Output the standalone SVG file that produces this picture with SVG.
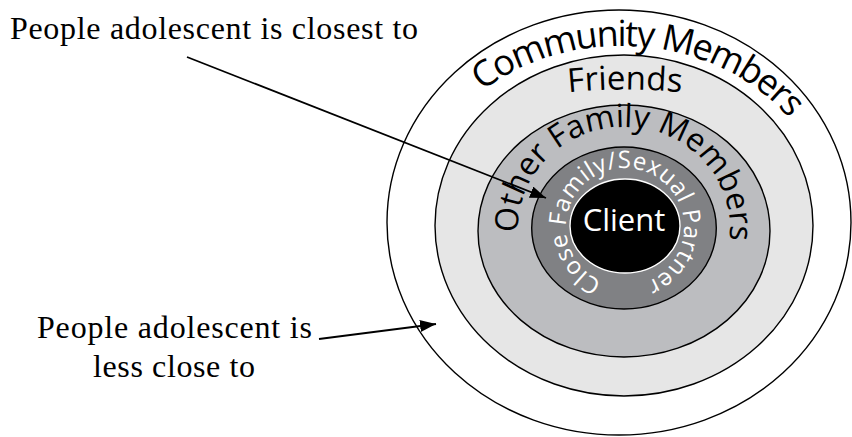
<svg xmlns="http://www.w3.org/2000/svg" width="852" height="437" viewBox="0 0 852 437">
<style>
.ring{stroke:#000;stroke-width:1.4}
.arc{font-family:"Open Sans","Noto Sans",sans-serif;fill:#000}
.lbl{font-family:"Liberation Serif","Times New Roman",serif;font-size:32px;fill:#000}
.conn{stroke:#000;stroke-width:1.8;fill:none}
</style>
<defs>
<marker id="ah" markerUnits="userSpaceOnUse" markerWidth="17" markerHeight="13" refX="16" refY="6" orient="auto">
<path d="M0,0 L16,6 L0,12 z" fill="#000"/>
</marker>
<path id="pComm" d="M621,398 A208,176 0 1 1 621,46 A208,176 0 1 1 621,398"/>
<path id="pFriends" d="M540,96 Q625,83 710,96"/>
<path id="pOther" d="M624,329 A106,101 0 1 1 624,127 A106,101 0 1 1 624,329"/>
<path id="pClose" d="M625,286 A59,59 0 1 1 625,168 A59,59 0 1 1 625,286"/>
</defs>
<rect width="852" height="437" fill="#fff"/>

<g id="community">
<ellipse class="ring" cx="619" cy="222.5" rx="232" ry="212.5" fill="#fff"/>
<text class="arc" font-size="36" letter-spacing="-1.7" text-anchor="middle"><textPath href="#pComm" startOffset="51.6%">Community Members</textPath></text>
</g>
<g id="friends">
<ellipse class="ring" cx="624" cy="225.5" rx="189" ry="170.5" fill="#e6e6e6"/>
<text class="arc" font-size="33" text-anchor="middle"><textPath href="#pFriends" startOffset="50%">Friends</textPath></text>
</g>
<g id="other-family">
<ellipse class="ring" cx="624" cy="231" rx="146" ry="126" fill="#bcbdc0"/>
<text class="arc" font-size="32" text-anchor="middle"><textPath href="#pOther" startOffset="50.6%">Other Family Members</textPath></text>
</g>
<g id="close-family">
<ellipse class="ring" cx="624" cy="228" rx="92.3" ry="81" fill="#808184"/>
<text class="arc" font-size="24" letter-spacing="0.5" text-anchor="middle" style="fill:#fff"><textPath href="#pClose" startOffset="50.3%">Close Family/Sexual Partner</textPath></text>
</g>
<g id="client">
<ellipse cx="625" cy="226" rx="55" ry="47" fill="#000" stroke="#fff" stroke-width="1.4"/>
<text x="624" y="231" font-family="Open Sans, Noto Sans, sans-serif" font-size="31" text-anchor="middle" fill="#fff">Client</text>
</g>

<g id="label-closest">
<text class="lbl" x="10" y="39" textLength="408" lengthAdjust="spacing">People adolescent is closest to</text>
</g>
<g id="label-less-close">
<text class="lbl" x="37" y="338" textLength="275" lengthAdjust="spacing">People adolescent is</text>
<text class="lbl" x="93" y="377" textLength="162" lengthAdjust="spacing">less close to</text>
</g>

<g id="connectors">
<line class="conn" x1="187" y1="57" x2="546" y2="198" marker-end="url(#ah)"/>
<line class="conn" x1="319" y1="339" x2="436" y2="324" marker-end="url(#ah)"/>
</g>
</svg>
